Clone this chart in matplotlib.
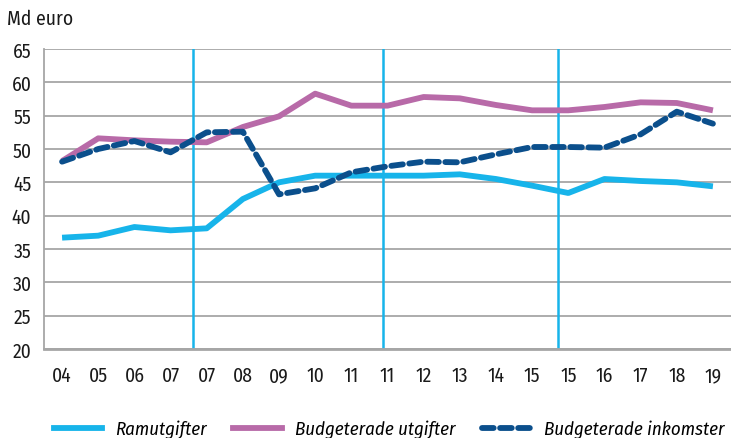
import matplotlib
matplotlib.use("Agg")
import matplotlib.pyplot as plt
from matplotlib.lines import Line2D

labels = ["04", "05", "06", "07", "07", "08", "09", "10", "11", "11",
          "12", "13", "14", "15", "15", "16", "17", "18", "19"]
ramutgifter = [36.7, 37.0, 38.3, 37.8, 38.1, 42.5, 45.0, 46.0, 46.0, 46.0,
               46.0, 46.2, 45.5, 44.5, 43.4, 45.5, 45.2, 45.0, 44.4]
budget_utgifter = [48.2, 51.6, 51.3, 51.1, 51.0, 53.3, 54.9, 58.3, 56.5, 56.5,
                   57.8, 57.6, 56.6, 55.8, 55.8, 56.3, 57.0, 56.9, 55.8]
budget_inkomster = [48.1, 50.0, 51.2, 49.5, 52.5, 52.6, 43.2, 44.1, 46.5, 47.4,
                    48.1, 48.0, 49.2, 50.3, 50.3, 50.2, 52.2, 55.6, 53.8]
series_names = ["Ramutgifter", "Budgeterade utgifter", "Budgeterade inkomster"]
separators = [3.62, 8.87, 13.72]
yticks = [20, 25, 30, 35, 40, 45, 50, 55, 60, 65]

FONT = ["Fira Sans Condensed", "PT Sans Narrow", "Archivo Narrow",
        "Roboto Condensed", "Open Sans Condensed", "DejaVu Sans"]
plt.rcParams["font.family"] = FONT

c_ram = "#17b4ea"
c_utg = "#b86aa8"
c_ink = "#0b4f8c"
grid_c = "#a6a6a6"

fig = plt.figure(figsize=(7.31, 4.39), dpi=100)
ax = fig.add_axes([44 / 731, 1 - 350 / 439, 1 - 44 / 731, 300 / 439])

x = list(range(len(labels)))
for yv in yticks:
    ax.axhline(yv, color=grid_c, lw=1.3, zorder=1)
for s in separators:
    ax.axvline(s, color=c_ram, lw=1.8, zorder=2)

ax.plot(x, ramutgifter, color=c_ram, lw=4.2, solid_capstyle="butt", zorder=3)
ax.plot(x, budget_utgifter, color=c_utg, lw=4.2, solid_capstyle="butt", zorder=3)
ax.plot(x, budget_inkomster, color=c_ink, lw=4.2, dashes=(2.0, 1.1),
        dash_capstyle="round", zorder=4)

ax.set_xlim(-0.5, 18.5)
ax.set_ylim(20, 65)
ax.set_yticks(yticks)
ax.set_xticks(x)
ax.set_xticklabels(labels)
ax.tick_params(axis="both", length=0, labelsize=14, colors="#1a1a1a")
ax.tick_params(axis="y", pad=9)
ax.tick_params(axis="x", pad=12)
for side in ["top", "right"]:
    ax.spines[side].set_visible(False)
ax.spines["left"].set_color(grid_c)
ax.spines["left"].set_linewidth(1.3)
ax.spines["bottom"].set_color(grid_c)
ax.spines["bottom"].set_linewidth(2.0)

fig.text(7 / 731, 1 - 19 / 439, "Md euro", fontsize=14, va="center", ha="left",
         color="#1a1a1a")

handles = [
    Line2D([], [], color=c_ram, lw=4.2),
    Line2D([], [], color=c_utg, lw=4.2),
    Line2D([], [], color=c_ink, lw=4.2, dashes=(2.0, 1.1), dash_capstyle="round"),
]
leg = fig.legend(handles, series_names, loc="center", ncol=3,
                 bbox_to_anchor=(389 / 731, 1 - 430 / 439), frameon=False,
                 prop={"family": FONT, "style": "italic", "size": 13.5},
                 handlelength=2.6, handletextpad=0.7, columnspacing=1.4,
                 borderaxespad=0, borderpad=0)

fig.savefig("out.png", dpi=100)
